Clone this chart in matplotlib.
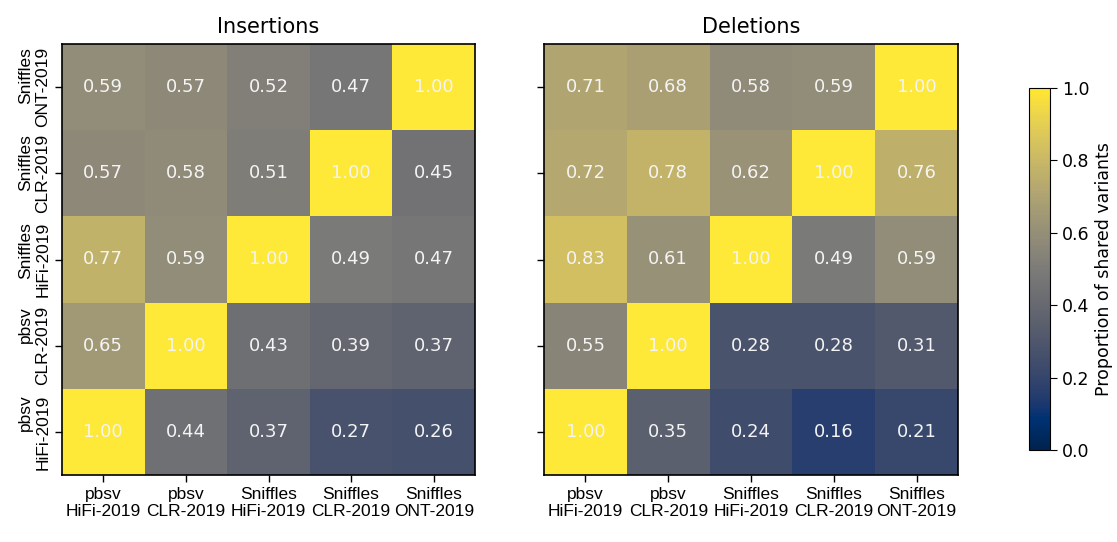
import matplotlib
matplotlib.use("Agg")
import matplotlib.pyplot as plt
import numpy as np

labels = ["pbsv\nHiFi-2019", "pbsv\nCLR-2019", "Sniffles\nHiFi-2019", "Sniffles\nCLR-2019", "Sniffles\nONT-2019"]
# rows listed bottom (pbsv HiFi) to top (Sniffles ONT)
ins = [
    [1.00, 0.44, 0.37, 0.27, 0.26],
    [0.65, 1.00, 0.43, 0.39, 0.37],
    [0.77, 0.59, 1.00, 0.49, 0.47],
    [0.57, 0.58, 0.51, 1.00, 0.45],
    [0.59, 0.57, 0.52, 0.47, 1.00],
]
dels = [
    [1.00, 0.35, 0.24, 0.16, 0.21],
    [0.55, 1.00, 0.28, 0.28, 0.31],
    [0.83, 0.61, 1.00, 0.49, 0.59],
    [0.72, 0.78, 0.62, 1.00, 0.76],
    [0.71, 0.68, 0.58, 0.59, 1.00],
]
titles = ["Insertions", "Deletions"]

fig = plt.figure(figsize=(11.17, 5.42), dpi=100)
W, H = 1117, 542
ax1 = fig.add_axes([62 / W, 1 - 475 / H, 413 / W, 431 / H])
ax2 = fig.add_axes([544 / W, 1 - 475 / H, 414 / W, 431 / H])
cax = fig.add_axes([1029 / W, 1 - 450 / H, 21 / W, 362 / H])

tickfont = dict(family=["Liberation Sans", "DejaVu Sans"], size=12.5)
for ax, data, title, showy in [(ax1, ins, titles[0], True), (ax2, dels, titles[1], False)]:
    arr = np.array(data)
    im = ax.pcolormesh(np.arange(6), np.arange(6), arr, cmap="cividis", vmin=0, vmax=1)
    for i in range(arr.shape[0]):
        for j in range(arr.shape[1]):
            ax.text(j + 0.5, i + 0.5, f"{arr[i, j]:.2f}", ha="center", va="center",
                    color="#f4f4f4", fontsize=13)
    ax.set_xlim(0, 5)
    ax.set_ylim(0, 5)
    ax.set_xticks(np.arange(5) + 0.5)
    ax.set_xticklabels(labels, **tickfont)
    ax.set_yticks(np.arange(5) + 0.5)
    if showy:
        ax.set_yticklabels(labels, rotation=90, va="center", **tickfont)
    else:
        ax.set_yticklabels([])
    ax.tick_params(length=5, width=1)
    ax.set_title(title, fontsize=15, pad=8)
    for s in ax.spines.values():
        s.set_linewidth(1.2)

cb = fig.colorbar(im, cax=cax)
cb.set_label("Proportion of shared variants", fontsize=12.5)
cb.ax.tick_params(labelsize=12.5, length=5)
cb.set_ticks([0, 0.2, 0.4, 0.6, 0.8, 1.0])

fig.savefig("out.png", dpi=100)
